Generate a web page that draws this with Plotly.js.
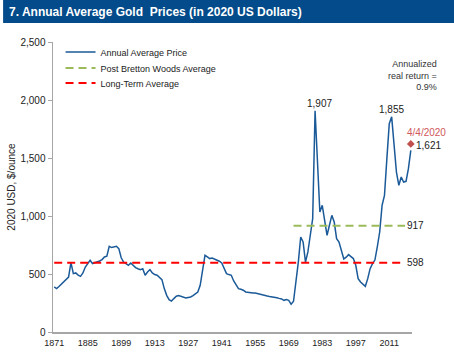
<!DOCTYPE html>
<html><head><meta charset="utf-8">
<script src="https://cdn.plot.ly/plotly-3.0.1.min.js"></script>
<style>html,body{margin:0;padding:0;background:#fff}#chart{width:454px;height:357px}</style>
</head><body><div id="chart"></div>
<script>
var years = [];
for (var yy = 1871; yy <= 2020; yy++) years.push(yy);
var prices = [
 388,374,392,411,432,450,474,598,503,509,
 490,480,509,560,595,618,590,597,603,612,
 624,647,653,739,728,732,739,719,640,603,
 590,575,595,575,555,545,538,546,489,517,
 538,509,495,489,474,452,374,316,279,267,
 288,308,314,305,302,293,298,302,314,330,
 345,403,532,661,647,633,638,630,624,610,
 595,540,503,495,489,440,400,374,368,360,
 345,340,336,336,336,330,322,318,314,310,
 306,304,302,296,290,285,273,279,273,239,
 265,431,603,819,776,603,690,834,977,1907,
 1465,1034,1092,977,834,920,1006,948,805,776,
 690,630,645,667,650,633,575,460,431,415,
 394,460,546,590,620,733,862,1092,1178,1495,
 1796,1855,1609,1379,1265,1336,1293,1299,1408,1566
];
var longTermYears = [1871, 2017.6];
var longTermAvg = [598, 598];
var postBWYears = [1971, 2017.6];
var postBWAvg = [917, 917];
var latestDate = [2020];
var latestPrice = [1621];
var tickYears = [1871,1885,1899,1913,1927,1941,1955,1969,1983,1997,2011];
var yTicks = [0,500,1000,1500,2000,2500];

var FONT = "Liberation Sans, Arial, sans-serif";
var traces = [
 {x: years, y: prices, type: 'scatter', mode: 'lines', name: 'Annual Average Price', legend: 'legend',
  line: {color: '#1B5A98', width: 1.5}},
 {x: postBWYears, y: postBWAvg, type: 'scatter', mode: 'lines', name: 'Post Bretton Woods Average', legend: 'legend2',
  line: {color: '#9BBB59', width: 2, dash: '8px,5px'}},
 {x: longTermYears, y: longTermAvg, type: 'scatter', mode: 'lines', name: 'Long-Term Average', legend: 'legend3',
  line: {color: '#FF0000', width: 2, dash: '8px,5px'}},
 {x: latestDate, y: latestPrice, type: 'scatter', mode: 'markers', showlegend: false, cliponaxis: false,
  marker: {color: '#C0504D', size: 6, symbol: 'diamond'}}
];
function leg(yc) {
 return {x: 0.021, y: yc, xanchor: 'left', yanchor: 'middle', bgcolor: 'rgba(0,0,0,0)',
   font: {family: FONT, size: 9, color: '#222'}};
}
var layout = {
 width: 454, height: 357,
 margin: {l: 53, r: 42, t: 42, b: 25},
 paper_bgcolor: '#fff', plot_bgcolor: '#fff',
 font: {family: FONT, size: 9, color: '#222'},
 shapes: [{type: 'rect', xref: 'paper', yref: 'paper', x0: -0.139, x1: 1.2, y0: 1.0655, y1: 1.16,
   fillcolor: '#034B8A', line: {width: 0}, layer: 'below'}],
 xaxis: {type: 'linear', range: [1870.5, 2020.5], tickvals: tickYears, ticktext: tickYears.map(String),
   showgrid: false, zeroline: false, showline: true, linecolor: '#A6A6A6', linewidth: 1.5,
   ticks: 'outside', ticklen: 2, tickcolor: 'rgba(0,0,0,0)', tickfont: {size: 9, color: '#222'}},
 yaxis: {range: [0, 2500], tickvals: yTicks, tickformat: ',', showgrid: false, zeroline: false,
   showline: true, linecolor: '#A6A6A6', linewidth: 1.5, ticks: 'outside', ticklen: 4, tickcolor: '#A6A6A6',
   tickfont: {size: 10, color: '#222'},
   title: {text: '2020 USD, $/ounce', font: {size: 10, color: '#222'}, standoff: 3}},
 showlegend: true,
 legend: leg(0.9655), legend2: leg(0.910), legend3: leg(0.8586),
 annotations: [
  {x: -0.1281, y: 1.1034, xref: 'paper', yref: 'paper', text: '<b>7. Annual Average Gold  Prices (in 2020 US Dollars)</b>',
   showarrow: false, xanchor: 'left', yanchor: 'middle', font: {family: FONT, size: 12, color: '#fff'}},
  {x: 1980, y: 1907, xref: 'x', yref: 'y', text: '1,907', showarrow: false, yanchor: 'bottom', xshift: 4, font: {size: 10, color: '#222'}},
  {x: 2012, y: 1855, xref: 'x', yref: 'y', text: '1,855', showarrow: false, yanchor: 'bottom', font: {size: 10, color: '#222'}},
  {x: 2017.6, y: 917, xref: 'x', yref: 'y', text: '917', showarrow: false, xanchor: 'left', font: {size: 10, color: '#222'}},
  {x: 2017.6, y: 598, xref: 'x', yref: 'y', text: '598', showarrow: false, xanchor: 'left', font: {size: 10, color: '#222'}},
  {x: 2020, y: 1621, xref: 'x', yref: 'y', text: '1,621', showarrow: false, xanchor: 'left', xshift: 3, yshift: -2, font: {size: 10, color: '#222'}},
  {x: 2020, y: 1621, xref: 'x', yref: 'y', text: '4/4/2020', showarrow: false, xanchor: 'left', yanchor: 'bottom', xshift: -6, yshift: 4, font: {size: 10, color: '#D0585A'}},
  {x: 1.075, y: 0.95, xref: 'paper', yref: 'paper', text: 'Annualized<br>real return =<br>0.9%', showarrow: false,
   xanchor: 'right', yanchor: 'top', align: 'right', font: {size: 9, color: '#333'}}
 ]
};
Plotly.newPlot('chart', traces, layout, {displayModeBar: false, staticPlot: true});
</script></body></html>
